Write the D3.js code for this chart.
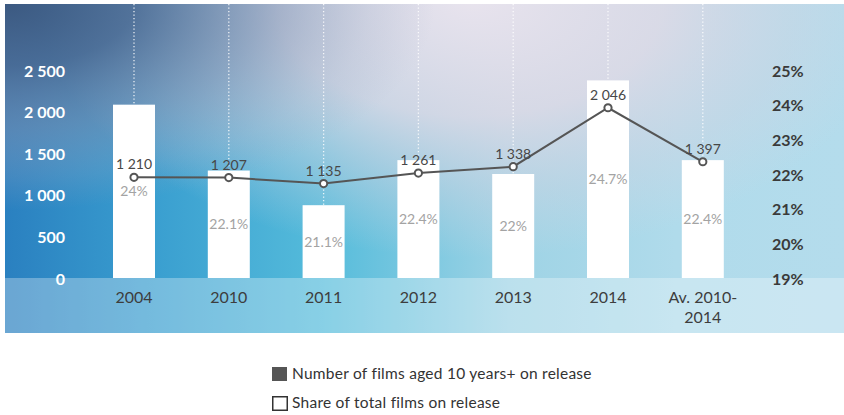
<!DOCTYPE html>
<html>
<head>
<meta charset="utf-8">
<script src="https://cdn.jsdelivr.net/npm/d3@7/dist/d3.min.js"></script>
<style>
  html, body { margin: 0; padding: 0; background: #fff; }
  svg { display: block; font-family: Lato, "Open Sans", sans-serif; }
</style>
</head>
<body>
<svg id="chart" width="844" height="415"></svg>
<script>
// Films aged 10 years+ on release: count (line, left axis) and share (bars, right axis)
const categories = ["2004", "2010", "2011", "2012", "2013", "2014", "Av. 2010-2014"];
const filmCounts = [1210, 1207, 1135, 1261, 1338, 2046, 1397];
const filmShares = [24, 22.1, 21.1, 22.4, 22, 24.7, 22.4];
const countTicks = [0, 500, 1000, 1500, 2000, 2500];
const shareTicks = [19, 20, 21, 22, 23, 24, 25];
const legendLabels = ["Number of films aged 10 years+ on release", "Share of total films on release"];

const svg = d3.select("#chart");
const panel = { x0: 5, y0: 4, x1: 844, y1: 333 };
const baseY = 278, topY = 70;

const locale = d3.formatLocale({ decimal: ".", thousands: " ", grouping: [3], currency: ["", ""] });
const fmtCount = locale.format(",d");

const x = d3.scaleBand().domain(categories).range([86.6, 750.2])
  .paddingInner(0.557).paddingOuter(0.2785);
const yCount = d3.scaleLinear().domain([0, 2500]).range([baseY, topY]);
const yShare = d3.scaleLinear().domain([19, 25]).range([baseY, topY]);
const cx = c => x(c) + x.bandwidth() / 2;

// ---- background panel ----
const defs = svg.append("defs");
const base = defs.append("linearGradient").attr("id", "bgBase")
  .attr("x1", 0).attr("y1", 0).attr("x2", 1).attr("y2", 0);
[[0, "#2a80c0"], [0.18, "#3a9fd0"], [0.38, "#55bcdb"], [0.6, "#9ed3e5"], [0.8, "#b0dbeb"], [1, "#b4dcec"]]
  .forEach(([o, c]) => base.append("stop").attr("offset", o).attr("stop-color", c));

const lav = defs.append("radialGradient").attr("id", "bgLav")
  .attr("gradientUnits", "userSpaceOnUse")
  .attr("cx", 470).attr("cy", 0).attr("r", 430)
  .attr("gradientTransform", "translate(470,0) scale(1,0.6) translate(-470,0)");
[[0, "#ebe4ee", 0.97], [0.45, "#e2dae6", 0.82], [0.75, "#d6d4e2", 0.4], [1, "#d6d4e2", 0]]
  .forEach(([o, c, a]) => lav.append("stop").attr("offset", o).attr("stop-color", c).attr("stop-opacity", a));

const slate = defs.append("radialGradient").attr("id", "bgSlate")
  .attr("gradientUnits", "userSpaceOnUse")
  .attr("cx", 5).attr("cy", 4).attr("r", 430)
  .attr("gradientTransform", "translate(5,4) scale(1,0.48) translate(-5,-4)");
[[0, "#3c587f", 0.97], [0.3, "#4d6890", 0.85], [0.6, "#7c8cad", 0.55], [0.85, "#a0a6c0", 0.2], [1, "#a0a6c0", 0]]
  .forEach(([o, c, a]) => slate.append("stop").attr("offset", o).attr("stop-color", c).attr("stop-opacity", a));

const pw = panel.x1 - panel.x0, ph = panel.y1 - panel.y0;
svg.append("rect").attr("x", panel.x0).attr("y", panel.y0).attr("width", pw).attr("height", ph).attr("fill", "url(#bgBase)");
svg.append("rect").attr("x", panel.x0).attr("y", panel.y0).attr("width", pw).attr("height", ph).attr("fill", "url(#bgLav)");
svg.append("rect").attr("x", panel.x0).attr("y", panel.y0).attr("width", pw).attr("height", ph).attr("fill", "url(#bgSlate)");
// lighter strip under the baseline
svg.append("rect").attr("x", panel.x0).attr("y", baseY).attr("width", pw).attr("height", panel.y1 - baseY)
  .attr("fill", "#ffffff").attr("fill-opacity", 0.3);

// ---- dotted guides from the top down to each bar ----
svg.append("g").selectAll("line").data(categories).join("line")
  .attr("x1", d => cx(d)).attr("x2", d => cx(d))
  .attr("y1", panel.y0).attr("y2", (d, i) => yShare(filmShares[i]))
  .attr("stroke", "#ffffff").attr("stroke-opacity", 0.85)
  .attr("stroke-width", 1.3).attr("stroke-dasharray", "1.3,2.2");

// ---- bars (share) ----
svg.append("g").selectAll("rect").data(categories).join("rect")
  .attr("x", d => x(d)).attr("width", x.bandwidth())
  .attr("y", (d, i) => yShare(filmShares[i]))
  .attr("height", (d, i) => baseY - yShare(filmShares[i]))
  .attr("fill", "#ffffff");

svg.append("g").selectAll("text").data(categories).join("text")
  .attr("x", d => cx(d))
  .attr("y", (d, i) => (yShare(filmShares[i]) + baseY) / 2)
  .attr("dy", "0.35em").attr("text-anchor", "middle")
  .attr("font-size", 14).attr("fill", "#a3a3a3")
  .text((d, i) => filmShares[i] + "%");

// ---- axes ----
const leftAxis = svg.append("g").attr("transform", "translate(65,1)")
  .call(d3.axisLeft(yCount).tickValues(countTicks).tickFormat(fmtCount).tickSize(0).tickPadding(0));
leftAxis.select(".domain").remove();
leftAxis.selectAll("text").attr("font-size", 16).attr("font-weight", 700).attr("fill", "#ffffff")
  .attr("font-family", "Lato, sans-serif");

const rightAxis = svg.append("g").attr("transform", "translate(772,1)")
  .call(d3.axisRight(yShare).tickValues(shareTicks).tickFormat(d => d + "%").tickSize(0).tickPadding(0));
rightAxis.select(".domain").remove();
rightAxis.selectAll("text").attr("font-size", 16).attr("font-weight", 700).attr("fill", "#3a3a3a")
  .attr("font-family", "Lato, sans-serif");

const bottomAxis = svg.append("g").attr("transform", `translate(0,${baseY})`)
  .call(d3.axisBottom(x).tickSize(0).tickPadding(14));
bottomAxis.select(".domain").remove();
bottomAxis.selectAll("text").attr("font-size", 16).attr("fill", "#3d3d3d")
  .attr("font-family", "Lato, sans-serif")
  .each(function (d) {
    const lines = d.split(/(?<=-)/);
    if (lines.length > 1) {
      const t = d3.select(this).text(null);
      lines.forEach((ln, k) => t.append("tspan").attr("x", 0).attr("dy", k === 0 ? "0.71em" : "1.2em").text(ln));
    }
  });

// ---- line (count) ----
const pts = categories.map((c, i) => [cx(c), yCount(filmCounts[i])]);
svg.append("path").datum(pts)
  .attr("d", d3.line())
  .attr("fill", "none").attr("stroke", "#555555").attr("stroke-width", 2);

svg.append("g").selectAll("circle").data(pts).join("circle")
  .attr("cx", d => d[0]).attr("cy", d => d[1]).attr("r", 3.6)
  .attr("fill", "#ffffff").attr("stroke", "#555555").attr("stroke-width", 2);

svg.append("g").selectAll("text").data(categories).join("text")
  .attr("x", d => cx(d))
  .attr("y", (d, i) => yCount(filmCounts[i]) - 8)
  .attr("text-anchor", "middle")
  .attr("font-size", 14).attr("fill", "#474747")
  .text((d, i) => fmtCount(filmCounts[i]));

// ---- legend ----
const legend = svg.append("g").attr("transform", "translate(272,367)");
legendLabels.forEach((label, i) => {
  const g = legend.append("g").attr("transform", `translate(0,${i * 29})`);
  g.append("rect").attr("x", i === 0 ? 0 : 0.75).attr("y", i === 0 ? 0 : 0.75)
    .attr("width", i === 0 ? 15 : 14.5).attr("height", i === 0 ? 14 : 13.5)
    .attr("fill", i === 0 ? "#555555" : "#ffffff")
    .attr("stroke", i === 0 ? "none" : "#333333").attr("stroke-width", 1.5);
  g.append("text").attr("x", 20).attr("y", 7).attr("dy", "0.35em")
    .attr("font-size", 15.5).attr("letter-spacing", 0.25).attr("fill", "#333333").text(label);
});
</script>
</body>
</html>
